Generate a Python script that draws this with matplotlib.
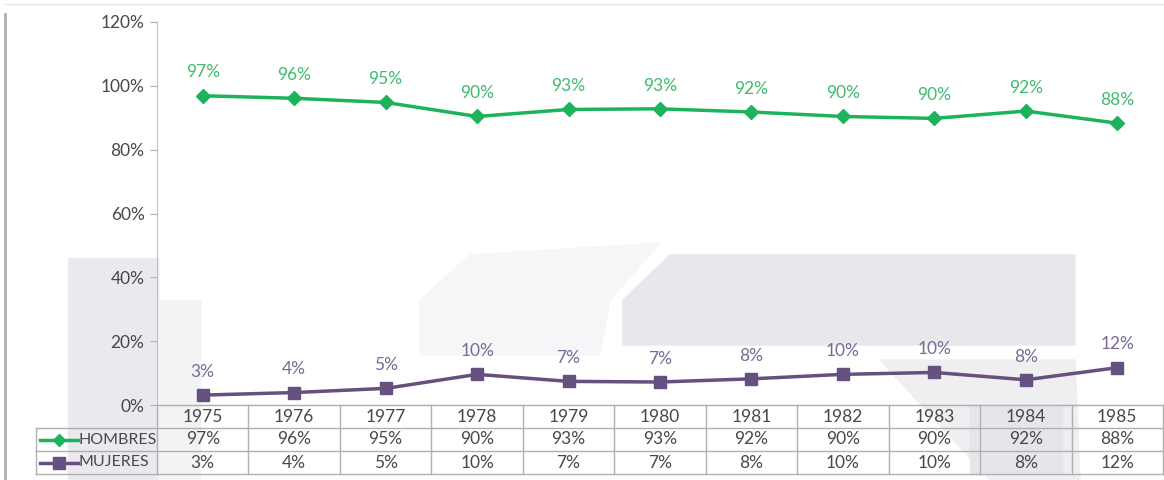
import matplotlib
matplotlib.use("Agg")
import matplotlib.pyplot as plt
from matplotlib.patches import Rectangle, Polygon
from matplotlib.lines import Line2D

plt.rcParams['font.family'] = ['Lato', 'DejaVu Sans']

years = ["1975", "1976", "1977", "1978", "1979", "1980", "1981", "1982", "1983", "1984", "1985"]
hombres = [96.9, 96.1, 94.8, 90.4, 92.6, 92.8, 91.8, 90.4, 89.8, 92.1, 88.3]
mujeres = [3.1, 3.9, 5.2, 9.6, 7.4, 7.2, 8.2, 9.6, 10.2, 7.9, 11.7]
hombres_lbl = ["97%", "96%", "95%", "90%", "93%", "93%", "92%", "90%", "90%", "92%", "88%"]
mujeres_lbl = ["3%", "4%", "5%", "10%", "7%", "7%", "8%", "10%", "10%", "8%", "12%"]
yticks = [0, 20, 40, 60, 80, 100, 120]

GREEN = "#1db35b"
GREEN_TXT = "#3fbb70"
PURPLE = "#65507f"
PURPLE_TXT = "#786a95"
GRID = "#b0b0b0"
TXT = "#484848"
FS = 12.5

W, H = 1164, 480
fig = plt.figure(figsize=(W / 100, H / 100), dpi=100)


def fx(px):
    return px / W


def fy(py):
    return 1 - py / H


# faint background watermark (scanned page)
wm = [
    Rectangle((fx(68), fy(480)), fx(158) - fx(68), fy(258) - fy(480), color="#e9e9ee"),
    Rectangle((fx(158), fy(480)), fx(200) - fx(158), fy(300) - fy(480), color="#f3f3f6"),
    Polygon([(fx(420), fy(355)), (fx(420), fy(300)), (fx(470), fy(255)), (fx(660), fy(243)),
             (fx(610), fy(300)), (fx(600), fy(355))], closed=True, color="#f6f6f8"),
    Polygon([(fx(623), fy(345)), (fx(623), fy(300)), (fx(670), fy(255)), (fx(1075), fy(255)),
             (fx(1075), fy(345))], closed=True, color="#e8e8ec"),
    Polygon([(fx(880), fy(360)), (fx(1075), fy(360)), (fx(1080), fy(480)), (fx(990), fy(480))],
            closed=True, color="#efeff2"),
    Rectangle((fx(970), fy(474)), fx(1062) - fx(970), fy(405) - fy(474), color="#e6e6ea"),
]
for p in wm:
    p.set_transform(fig.transFigure)
    p.set_zorder(-10)
    fig.patches.append(p)

# chart frame
fig.add_artist(Line2D([fx(5), fx(5)], [fy(14), fy(480)], color="#b0b0b0", lw=2))
fig.add_artist(Line2D([fx(5), fx(1164)], [fy(4), fy(4)], color="#e6e6e6", lw=1))

x = list(range(len(years)))
ax = fig.add_axes([fx(157), fy(405), fx(1163) - fx(157), fy(22) - fy(405)])
ax.patch.set_alpha(0)
ax.set_xlim(-0.5, len(years) - 0.5)
ax.set_ylim(0, 120)
ax.set_yticks(yticks)
ax.set_yticklabels([f"{v}%" for v in yticks], fontsize=FS, color=TXT)
ax.tick_params(axis="y", length=5, color=GRID, pad=4)
ax.set_xticks([i - 0.5 for i in range(len(years) + 1)])
ax.set_xticklabels([])
ax.tick_params(axis="x", length=0)
for s in ["top", "right"]:
    ax.spines[s].set_visible(False)
ax.spines["left"].set_color("#c0c0c0")
ax.spines["bottom"].set_color(GRID)

ax.plot(x, hombres, color=GREEN, lw=2.5, marker="D", ms=7, zorder=3)
ax.plot(x, mujeres, color=PURPLE, lw=2.5, marker="s", ms=9, zorder=3)
for i in x:
    ax.annotate(hombres_lbl[i], (i, hombres[i]), xytext=(0, 11), textcoords="offset points",
                ha="center", va="bottom", fontsize=FS, color=GREEN_TXT)
    ax.annotate(mujeres_lbl[i], (i, mujeres[i]), xytext=(0, 11), textcoords="offset points",
                ha="center", va="bottom", fontsize=FS, color=PURPLE_TXT)

# data table below the plot
x0 = -0.5 - (157 - 36) / ((1163 - 157) / len(years))
tab = fig.add_axes([fx(36), fy(474), fx(1163) - fx(36), fy(405) - fy(474)])
tab.set_xlim(x0, len(years) - 0.5)
tab.set_ylim(0, 3)
tab.axis("off")
tab.patch.set_alpha(0)

lk = dict(color=GRID, lw=1, clip_on=False)
tab.plot([-0.5, len(years) - 0.5], [3, 3], **lk)
for yy in [2, 1, 0]:
    tab.plot([x0, len(years) - 0.5], [yy, yy], **lk)
for i in range(len(years) + 1):
    tab.plot([i - 0.5, i - 0.5], [0, 3], **lk)
tab.plot([x0, x0], [0, 2], **lk)

for i, yr in enumerate(years):
    tab.text(i, 2.5, yr, ha="center", va="center", fontsize=FS, color=TXT)
    tab.text(i, 1.5, hombres_lbl[i], ha="center", va="center", fontsize=FS, color=TXT)
    tab.text(i, 0.5, mujeres_lbl[i], ha="center", va="center", fontsize=FS, color=TXT)

key_w = 0.42
kx = x0 + 0.04
tab.plot([kx, kx + key_w], [1.5, 1.5], color=GREEN, lw=2.5, clip_on=False)
tab.plot([kx + key_w / 2], [1.5], color=GREEN, marker="D", ms=6, clip_on=False)
tab.plot([kx, kx + key_w], [0.5, 0.5], color=PURPLE, lw=2.5, clip_on=False)
tab.plot([kx + key_w / 2], [0.5], color=PURPLE, marker="s", ms=9, clip_on=False)
tab.text(kx + key_w + 0.005, 1.5, "HOMBRES", ha="left", va="center", fontsize=11.5, color=TXT)
tab.text(kx + key_w + 0.005, 0.5, "MUJERES", ha="left", va="center", fontsize=11.5, color=TXT)

fig.savefig("out.png", dpi=100)
